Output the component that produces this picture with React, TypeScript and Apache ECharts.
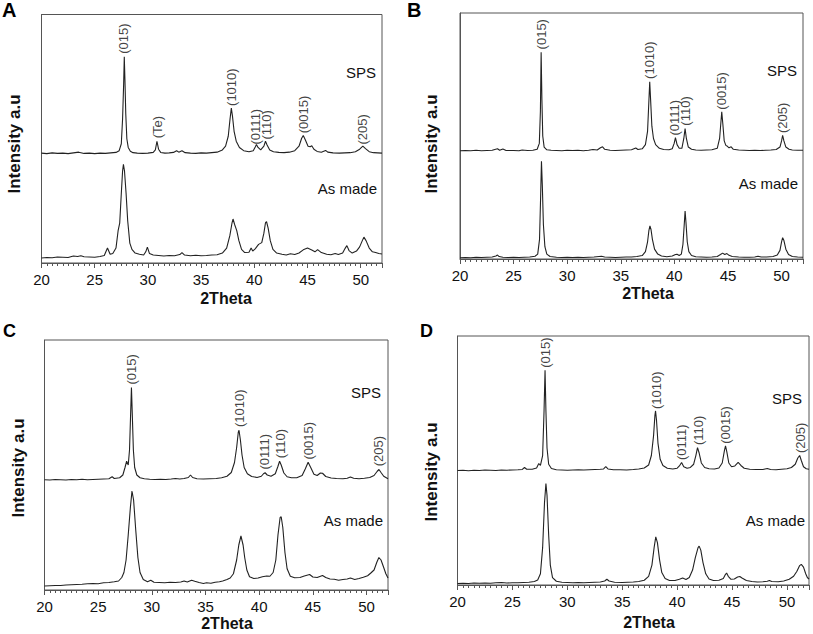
import React, { useEffect, useRef } from "react";
import * as echarts from "echarts";

const FONT = "'Liberation Sans', Arial, Helvetica, sans-serif";
const LINE = "#222";
const AXIS = "#555";

const panelLetters = ["A", "B", "C", "D"];
const xTickLabels = [20, 25, 30, 35, 40, 45, 50];

// Panel A
const spsA = [[20,44.2],[20.5,44],[21,44.3],[21.5,44.1],[22,44.2],[22.5,44],[23,44.3],[23.5,44.6],[24,44.1],[24.5,44.2],[25,44],[25.5,44.2],[26,44.1],[26.5,44.3],[27,44.5],[27.3,45.2],[27.5,48],[27.62,58],[27.72,72],[27.78,83],[27.84,74],[27.92,60],[28.02,50],[28.15,46.5],[28.35,45],[28.6,44.4],[29,44.2],[29.5,44.1],[30,44.2],[30.5,44.5],[30.7,45.5],[30.85,49],[31.0,45.8],[31.2,44.5],[31.6,44.2],[32,44.3],[32.4,44.5],[32.7,45.2],[32.9,44.6],[33.2,45.2],[33.5,44.4],[34,44.2],[34.5,44.1],[35,44.3],[35.5,44.2],[36,44.4],[36.5,44.6],[37,45.5],[37.3,47],[37.55,51],[37.72,58],[37.84,62.3],[37.95,59],[38.1,53],[38.3,49],[38.6,46.5],[39,45.2],[39.5,44.8],[39.9,45.2],[40.1,46.8],[40.2,47.7],[40.35,46.5],[40.6,45.5],[40.9,47],[41.05,49],[41.2,47.5],[41.45,45.5],[41.8,44.8],[42.3,44.5],[42.8,44.4],[43.3,44.6],[43.8,45.2],[44.2,47],[44.45,50.2],[44.6,51.3],[44.8,49.5],[45.05,47],[45.25,46.8],[45.4,47.2],[45.6,45.8],[45.9,44.9],[46.3,44.6],[46.7,45.3],[46.9,44.6],[47.4,44.3],[48,44.2],[48.5,44.3],[49,44.4],[49.5,44.8],[49.9,45.8],[50.2,47],[50.45,46],[50.8,44.8],[51.2,44.4],[51.6,44.3],[52,44.2]];
const asMadeA = [[20,2],[20.5,2.2],[21,2.1],[21.5,2.4],[22,2.3],[22.5,2.2],[23,2.8],[23.4,2.6],[23.7,2.9],[24,2.5],[24.5,2.4],[25,2.3],[25.5,2.6],[25.9,3],[26.2,6],[26.45,3.5],[26.7,3.8],[27.0,6],[27.2,13],[27.35,16],[27.5,28],[27.62,37],[27.7,39.7],[27.8,37],[27.95,28],[28.1,17],[28.3,8],[28.5,5.5],[28.8,4],[29.2,3.5],[29.6,3.2],[29.8,4.5],[29.95,6.4],[30.15,3.8],[30.5,3.2],[31,3],[31.5,2.8],[32,3],[32.5,2.9],[33,3.4],[33.2,4.2],[33.45,3.2],[34,2.9],[34.5,3.1],[35,2.9],[35.5,3.0],[36,3.2],[36.5,3.3],[37,4],[37.4,6],[37.7,11],[37.9,16],[38.0,17.7],[38.15,15.5],[38.35,13],[38.55,9],[38.8,5.5],[39.1,4.2],[39.5,4.3],[39.7,6],[39.85,4.8],[40.1,5.8],[40.4,7.5],[40.7,8.2],[40.9,12],[41.05,16.2],[41.15,16.6],[41.3,14],[41.5,9],[41.75,5.5],[42.1,4],[42.6,3.5],[43,3.2],[43.4,3.7],[43.8,3.4],[44.2,4],[44.6,5.3],[45.0,6],[45.4,5.2],[45.7,4.5],[45.95,5.4],[46.3,4.2],[46.8,3.5],[47.2,3.3],[47.6,3.8],[47.9,3.4],[48.3,4],[48.55,6],[48.7,7],[48.9,5],[49.2,4],[49.6,4.8],[49.9,6.5],[50.15,9],[50.3,10.4],[50.5,9],[50.8,6],[51.1,4.5],[51.4,4.2],[51.7,3.8],[52,3.6]];
const peakNamesA = ["(015)", "(Te)", "(1010)", "(0111)", "(110)", "(0015)", "(205)"];
const peakPosA = [[27.72,84],[30.9,50],[37.84,63],[40.15,47.5],[41.15,49.5],[44.6,52],[50.2,47.5]];

// Panel B
const spsB = [[20,44],[20.5,44.1],[21,44],[21.5,44.2],[22,44],[22.5,44.1],[23,44.2],[23.5,44.8],[23.7,44.2],[24,44.7],[24.3,44.1],[25,44.1],[25.5,44],[25.8,44.3],[26.3,44.1],[26.8,44.2],[27.2,44.6],[27.4,47],[27.5,60],[27.57,84],[27.64,65],[27.72,50],[27.85,45.5],[28.1,44.4],[28.5,44.2],[29,44.1],[29.5,44],[30,44.2],[30.5,44.1],[31,44.2],[31.5,44],[32,44.2],[32.4,44.5],[32.8,44.3],[33.1,45.2],[33.3,45.6],[33.5,44.6],[34,44.2],[34.5,44.1],[35,44.2],[35.5,44.3],[36,44.4],[36.4,45.1],[36.6,44.5],[37,44.8],[37.3,46.5],[37.5,52],[37.62,64],[37.7,72],[37.78,65],[37.9,54],[38.05,49],[38.25,46.5],[38.6,45],[39,44.5],[39.5,44.4],[39.8,44.8],[39.98,47],[40.1,49.3],[40.25,46.5],[40.45,45],[40.7,45],[40.88,49],[41.0,53],[41.12,49],[41.3,45.5],[41.6,44.6],[42,44.3],[42.5,44.2],[43,44.3],[43.5,44.4],[44,45],[44.22,49],[44.33,55],[44.42,59.8],[44.52,55],[44.65,48],[44.8,46.2],[44.95,45.8],[45.1,45.2],[45.3,45.6],[45.5,44.6],[46,44.3],[46.5,44.2],[47,44.1],[47.5,44.2],[48,44.1],[48.5,44.2],[49,44.3],[49.5,44.5],[49.85,45.5],[50.0,48],[50.1,50.3],[50.22,48],[50.4,45.5],[50.7,44.6],[51,44.3],[51.5,44.2],[52,44.2]];
const asMadeB = [[20,0.5],[20.5,0.6],[21,0.5],[21.5,0.7],[22,0.6],[22.5,0.7],[23,0.8],[23.35,1.2],[23.5,1.6],[23.65,1.0],[24,0.7],[24.5,0.6],[25,0.7],[25.5,0.6],[26,0.7],[26.5,0.8],[27,1.1],[27.25,2],[27.42,8],[27.52,25],[27.6,39.7],[27.68,30],[27.78,14],[27.92,5],[28.1,2],[28.4,1],[29,0.7],[29.5,0.6],[30,0.7],[30.5,0.6],[31,0.7],[31.5,0.6],[32,0.7],[32.5,0.8],[33.2,1.1],[33.5,0.8],[34,0.7],[34.5,0.6],[35,0.7],[35.5,0.8],[36,0.8],[36.5,1],[37,1.4],[37.3,3],[37.5,7],[37.62,11.5],[37.72,13.5],[37.82,12],[37.95,8],[38.15,4],[38.45,2],[38.8,1.2],[39.3,0.9],[39.8,1.2],[40.1,1.8],[40.25,1.9],[40.45,1.4],[40.65,2],[40.8,6],[40.92,14],[41.0,19.5],[41.08,15],[41.2,7],[41.35,3],[41.6,1.4],[42,0.9],[42.5,0.8],[43,0.7],[43.5,0.8],[44,1],[44.3,1.8],[44.5,2.4],[44.7,1.8],[44.9,2.2],[45.1,1.5],[45.4,1],[46,0.8],[46.5,0.7],[47,0.7],[47.5,0.8],[47.8,1.1],[48.1,0.8],[48.6,0.8],[49.2,1],[49.6,1.6],[49.85,3.5],[50.0,7],[50.1,8.7],[50.22,7.5],[50.4,4],[50.65,1.8],[51,1],[51.5,0.8],[52,0.7]];
const peakNamesB = ["(015)", "(1010)", "(0111)", "(110)", "(0015)", "(205)"];
const peakPosB = [[27.6,85],[37.65,73],[40.05,50],[41.0,54],[44.42,60.5],[50.1,51]];

// Panel C
const spsC = [[20,44.1],[20.5,44],[21,44.2],[21.5,44.1],[22,44],[22.5,44.2],[23,44.1],[23.5,44.3],[24,44.1],[24.5,44.2],[25,44.3],[25.5,44.4],[26,44.5],[26.3,45.3],[26.5,44.6],[27,44.9],[27.3,46],[27.5,49],[27.65,51.5],[27.8,50],[27.92,56],[28.02,70],[28.1,81],[28.18,70],[28.28,56],[28.4,49],[28.6,46],[28.9,44.9],[29.3,44.5],[29.8,44.3],[30.3,44.2],[30.8,44.3],[31.3,44.2],[31.8,44.4],[32.2,44.6],[32.6,44.4],[33.0,44.6],[33.4,45],[33.6,46],[33.8,45],[34.2,44.5],[34.8,44.4],[35.4,44.5],[36,44.6],[36.5,44.9],[37,45.5],[37.4,47],[37.7,51],[37.9,57],[38.05,63],[38.12,63.9],[38.25,60],[38.4,54],[38.6,49],[38.9,46.5],[39.3,45.4],[39.8,45],[40.2,45.5],[40.4,46.5],[40.55,46.9],[40.75,46],[41.1,45.5],[41.5,46.5],[41.75,49.5],[41.9,51.5],[42.05,50],[42.3,46.8],[42.6,45.3],[43,44.9],[43.5,44.9],[44,45.8],[44.3,48.5],[44.56,51.1],[44.8,49],[45.1,46.3],[45.4,45.8],[45.7,46.8],[45.9,46.7],[46.2,45.4],[46.7,44.8],[47.2,44.6],[47.8,44.5],[48.2,44.7],[48.5,45.2],[48.8,44.7],[49.3,44.5],[49.8,44.7],[50.3,45],[50.7,45.8],[51.0,47.5],[51.16,48.2],[51.35,47],[51.6,45.5],[52,44.5]];
const asMadeC = [[20,1.6],[20.5,1.7],[21,1.8],[21.5,1.8],[22,2],[22.5,2.1],[23,2.2],[23.5,2.3],[24,2.5],[24.5,2.6],[25,2.5],[25.5,2.9],[26,3],[26.5,3.3],[26.9,3.6],[27.2,5],[27.4,7],[27.6,12],[27.8,22],[28,33],[28.15,39.6],[28.3,36],[28.5,24],[28.7,13],[28.9,7],[29.2,4.2],[29.6,3.3],[29.9,3.9],[30.2,3.1],[30.7,3],[31.2,2.9],[31.7,3.1],[32.2,3],[32.7,3.2],[33,3.6],[33.3,3.2],[33.7,3.9],[34,3.5],[34.4,3],[34.8,2.6],[35.1,2.9],[35.5,2.7],[35.9,3.1],[36.3,3.3],[36.6,3.6],[37,4.2],[37.3,4.8],[37.6,6.5],[37.9,12],[38.1,18],[38.3,21.6],[38.5,18],[38.65,13],[38.85,8],[39.1,5.3],[39.5,4.6],[39.9,4.8],[40.3,5.3],[40.7,5.6],[41,5.5],[41.3,7],[41.55,12],[41.75,22],[41.95,29],[42.05,29.3],[42.2,25],[42.4,15],[42.6,8.5],[42.9,5.5],[43.3,4.9],[43.8,5],[44.2,5.6],[44.7,6.2],[45,5.2],[45.4,5],[45.9,5.8],[46.2,5],[46.6,4.4],[47,4.3],[47.4,3.9],[47.8,4.2],[48.2,4.4],[48.5,4.8],[48.9,4.2],[49.3,4.6],[49.7,5.1],[50.1,5.7],[50.4,6.8],[50.7,8],[50.95,11],[51.15,13],[51.35,12],[51.6,9],[51.8,6.5],[52,4.8]];
const peakNamesC = ["(015)", "(1010)", "(0111)", "(110)", "(0015)", "(205)"];
const peakPosC = [[28.12,82],[38.14,65],[40.5,48],[41.95,52.5],[44.56,52],[51.16,49.3]];

// Panel D
const spsD = [[20,46],[20.5,46.1],[21,45.9],[21.5,46.1],[22,46],[22.5,46.2],[23,46.1],[23.5,46],[24,46.2],[24.5,46.1],[25,46.2],[25.5,46.3],[25.9,46.4],[26.1,47.2],[26.3,46.5],[26.8,46.5],[27.2,47],[27.4,48.8],[27.55,48],[27.75,52],[27.88,70],[27.97,86.2],[28.05,70],[28.15,55],[28.3,48.5],[28.55,46.8],[29,46.3],[29.5,46.2],[30,46.1],[30.5,46.2],[31,46.3],[31.5,46.2],[32,46.3],[32.5,46.4],[33,46.5],[33.3,46.6],[33.5,47.5],[33.7,46.6],[34.2,46.3],[34.8,46.3],[35.4,46.2],[36,46.4],[36.5,46.6],[37,47],[37.4,48.2],[37.65,52],[37.85,60],[37.97,68],[38.03,69.9],[38.12,66],[38.25,57],[38.45,50.5],[38.7,48],[39.1,46.9],[39.6,46.6],[40,46.9],[40.2,47.8],[40.4,49.2],[40.6,47.5],[40.9,46.9],[41.2,47.2],[41.5,48.5],[41.7,52],[41.85,55.2],[42,53],[42.2,49],[42.5,47.2],[42.9,46.7],[43.4,46.6],[43.8,47],[44.1,49],[44.3,54],[44.4,55.9],[44.52,53.5],[44.7,49],[44.95,47.5],[45.25,47.8],[45.55,49.2],[45.8,48],[46.1,46.9],[46.6,46.5],[47.2,46.4],[47.8,46.4],[48.2,46.8],[48.5,46.4],[49,46.3],[49.5,46.5],[50,46.7],[50.4,47.2],[50.75,48.5],[50.98,51],[51.15,52],[51.3,50],[51.5,47.5],[51.75,46.7],[52,46.5]];
const asMadeD = [[20,0.6],[20.5,0.7],[21,0.6],[21.5,0.8],[22,0.7],[22.5,0.8],[23,0.7],[23.5,0.9],[24,1],[24.5,0.8],[25,0.9],[25.5,0.9],[26,1],[26.5,1.1],[27,1.4],[27.3,2],[27.55,4.5],[27.75,15],[27.92,33],[28.05,40.7],[28.15,36],[28.3,20],[28.45,8],[28.65,3],[29,1.5],[29.5,1.1],[30,1],[30.5,0.9],[31,1],[31.5,0.9],[32,1],[32.5,1.1],[33,1.2],[33.4,1.6],[33.6,2.3],[33.8,1.6],[34.3,1.1],[35,1],[35.5,1.1],[36,1.2],[36.5,1.4],[37,1.9],[37.4,3.5],[37.7,8],[37.9,15],[38.05,19.3],[38.2,17],[38.4,10],[38.6,5],[38.9,2.6],[39.3,1.8],[39.8,1.8],[40.2,2.3],[40.5,2.8],[40.8,2.2],[41.1,3],[41.4,6],[41.65,11],[41.9,15],[42.0,15.6],[42.15,14],[42.35,9],[42.6,4.5],[42.9,2.4],[43.3,1.8],[43.8,1.9],[44.2,2.6],[44.4,4.3],[44.5,4.8],[44.65,3.5],[44.9,2.3],[45.2,2.4],[45.5,3.2],[45.7,3.4],[45.9,2.8],[46.3,1.8],[46.8,1.4],[47.3,1.2],[47.8,1.3],[48.2,1.5],[48.4,1.8],[48.6,1.4],[49.2,1.3],[49.7,1.6],[50.2,2.3],[50.6,3.5],[50.9,5.5],[51.15,7.8],[51.3,8.3],[51.5,7.2],[51.7,4.5],[51.85,3],[52,2.4]];
const peakNamesD = ["(015)", "(1010)", "(0111)", "(110)", "(0015)", "(205)"];
const peakPosD = [[27.97,87],[38.1,70.5],[40.4,50],[41.9,56],[44.4,56.5],[51.2,52.8]];

const spsSeries = [spsA, spsB, spsC, spsD];
const asMadeSeries = [asMadeA, asMadeB, asMadeC, asMadeD];
const peakNames = [peakNamesA, peakNamesB, peakNamesC, peakNamesD];
const peakPos = [peakPosA, peakPosB, peakPosC, peakPosD];
const sampleNames = ["SPS", "As made"];

// layout (pixels)
const grids = [
  { left: 41.5, top: 14.5, width: 340.5, height: 248.5 },
  { left: 460, top: 13, width: 343, height: 246 },
  { left: 44.5, top: 340, width: 343.5, height: 250 },
  { left: 457.5, top: 336, width: 351.5, height: 249 },
];
const letterPos = [[2, 0, 20], [407, 0, 20], [3, 322, 18], [420, 322, 18]];
const yTitlePos = [[14, 144], [431, 144], [18, 468], [431, 472]];
const xTitlePos = [[226, 298], [648, 293], [227, 623], [649, 622]];
const spsPos = [[376, 72], [797, 70], [381, 392], [802, 398]];
const asMadePos = [[377, 188], [798, 183], [383, 520], [805, 520]];

export default function App() {
  const ref = useRef<HTMLDivElement>(null);
  useEffect(() => {
    if (!ref.current) return;
    const chart = echarts.init(ref.current, undefined, { renderer: "svg" });
    const xAxis: any[] = [];
    const yAxis: any[] = [];
    const series: any[] = [];
    const graphic: any[] = [];
    grids.forEach((g, i) => {
      xAxis.push({
        gridIndex: i, type: "value", min: 20, max: 52, interval: 5, position: "bottom",
        axisLine: { show: true, lineStyle: { color: AXIS, width: 1 } },
        axisTick: { show: true, length: 5, inside: false, lineStyle: { color: AXIS, width: 1 } },
        axisLabel: {
          show: true, margin: 9, fontSize: 15, color: "#111", fontFamily: FONT,
          formatter: (v: number) => (xTickLabels.indexOf(v) >= 0 ? String(v) : ""),
        },
        splitLine: { show: false },
      });
      xAxis.push({
        gridIndex: i, type: "value", min: 20, max: 52, interval: 0.5, position: "bottom",
        axisLine: { show: false },
        axisTick: { show: true, length: 3, inside: false, lineStyle: { color: AXIS, width: 1 } },
        axisLabel: { show: false },
        splitLine: { show: false },
      });
      yAxis.push({
        gridIndex: i, type: "value", min: 0, max: 100,
        axisLine: { show: true, lineStyle: { color: AXIS, width: 1 } },
        axisTick: { show: false }, axisLabel: { show: false }, splitLine: { show: false },
      });
      [spsSeries[i], asMadeSeries[i]].forEach((d, k) => {
        series.push({
          type: "line", name: sampleNames[k], xAxisIndex: 2 * i, yAxisIndex: i, data: d,
          showSymbol: false, symbol: "none", silent: true,
          lineStyle: { color: LINE, width: 1.1 },
        });
      });
      series.push({
        type: "scatter", xAxisIndex: 2 * i, yAxisIndex: i, silent: true,
        symbolSize: 1, itemStyle: { color: "rgba(0,0,0,0)" },
        data: peakPos[i].map((p, j) => [p[0], p[1], peakNames[i][j]]),
        label: {
          show: true, position: "top", distance: 0, rotate: 90, align: "left", verticalAlign: "middle",
          formatter: (p: any) => p.data[2], fontSize: 13, color: "#111", fontFamily: FONT,
          textBorderWidth: 0, textBorderColor: "transparent",
        },
      });
      graphic.push({
        type: "text", x: letterPos[i][0], y: letterPos[i][1],
        style: { text: panelLetters[i], font: `bold ${letterPos[i][2]}px ${FONT}`, fill: "#000", align: "left", verticalAlign: "top" },
      });
      graphic.push({
        type: "text", x: yTitlePos[i][0], y: yTitlePos[i][1], rotation: Math.PI / 2,
        style: { text: "Intensity a.u", font: `bold 17px ${FONT}`, fill: "#111", align: "center", verticalAlign: "middle" },
      });
      graphic.push({
        type: "text", x: xTitlePos[i][0], y: xTitlePos[i][1],
        style: { text: "2Theta", font: `bold 16px ${FONT}`, fill: "#111", align: "center", verticalAlign: "middle" },
      });
      graphic.push({
        type: "text", x: spsPos[i][0], y: spsPos[i][1],
        style: { text: sampleNames[0], font: `15px ${FONT}`, fill: "#111", align: "right", verticalAlign: "middle" },
      });
      graphic.push({
        type: "text", x: asMadePos[i][0], y: asMadePos[i][1],
        style: { text: sampleNames[1], font: `15px ${FONT}`, fill: "#111", align: "right", verticalAlign: "middle" },
      });
    });
    chart.setOption({
      animation: false,
      backgroundColor: "#fff",
      grid: grids.map((g) => ({ ...g, show: true, borderColor: AXIS, borderWidth: 1, containLabel: false })),
      xAxis, yAxis, series, graphic,
    });
    return () => chart.dispose();
  }, []);
  return <div ref={ref} style={{ position: "fixed", left: 0, top: 0, width: 813, height: 634 }} />;
}
